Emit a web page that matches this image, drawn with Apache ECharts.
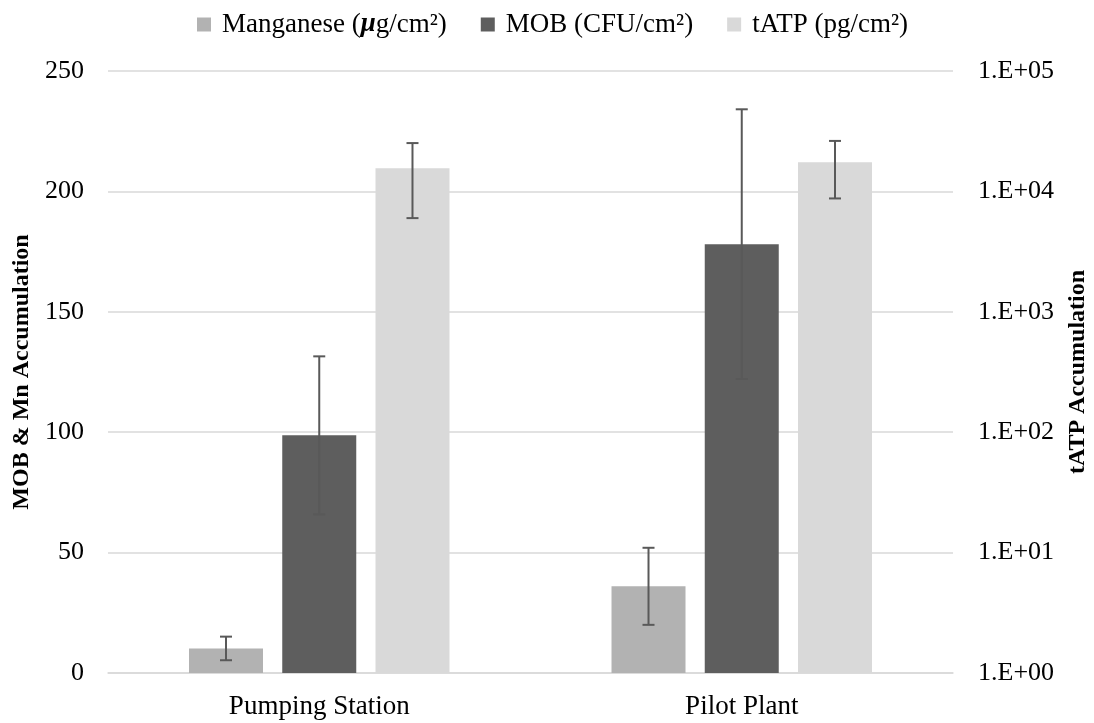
<!DOCTYPE html>
<html>
<head>
<meta charset="utf-8">
<style>html,body{margin:0;padding:0;background:#fff}#c{width:1094px;height:723px}</style>
<script src="https://cdn.jsdelivr.net/npm/echarts@6/dist/echarts.min.js"></script>
</head>
<body>
<div id="c"></div>
<script>
const categories = ['Pumping Station', 'Pilot Plant'];
const seriesNames = ['Manganese (μg/cm²)', 'MOB (CFU/cm²)', 'tATP (pg/cm²)'];
const manganese = [10.2, 36.0];
const manganeseErr = [4.9, 16.0];
const mob = [98.7, 178.1];
const mobErr = [32.8, 56.0];
const tatp = [15600, 17500];
const tatpErr = [9600, 8760];
const leftTicks = [0, 50, 100, 150, 200, 250];
const rightTicks = [1, 10, 100, 1000, 10000, 100000];

const FONT = '"Liberation Serif", "Times New Roman", serif';
const BAR_W = 74, BAR_GAP = 0.26;
const colors = ['#b2b2b2', '#5e5e5e', '#d9d9d9'];

function errSeries(vals, errs, offsetIdx, yIdx) {
  return {
    type: 'custom',
    yAxisIndex: yIdx,
    z: 10,
    silent: true,
    data: vals.map((v, i) => [i, v, errs[i]]),
    encode: {x: 0, y: 1},
    renderItem: function (params, api) {
      const i = api.value(0), v = api.value(1), e = api.value(2);
      const off = offsetIdx * BAR_W * (1 + BAR_GAP);
      const top = api.coord([i, v + e]);
      const bot = api.coord([i, v - e]);
      const x = top[0] + off;
      const half = 6;
      const st = {stroke: '#595959', lineWidth: 2};
      return {
        type: 'group',
        children: [
          {type: 'line', shape: {x1: x, y1: top[1], x2: x, y2: bot[1]}, style: st},
          {type: 'line', shape: {x1: x - half, y1: top[1], x2: x + half, y2: top[1]}, style: st},
          {type: 'line', shape: {x1: x - half, y1: bot[1], x2: x + half, y2: bot[1]}, style: st}
        ]
      };
    }
  };
}

const chart = echarts.init(document.getElementById('c'));
chart.setOption({
  animation: false,
  backgroundColor: '#fff',
  textStyle: {fontFamily: FONT},
  legend: {
    data: seriesNames,
    top: 6,
    left: 192,
    itemWidth: 14,
    itemHeight: 14,
    itemGap: 34,
    icon: 'rect',
    formatter: function (name) {
      return name.indexOf('μ') >= 0 ? name.replace('μ', '{b|μ}') : name;
    },
    textStyle: {
      fontFamily: FONT, fontSize: 27, color: '#000', padding: [0, 0, 0, 6],
      rich: {b: {fontFamily: FONT, fontSize: 27, fontWeight: 'bold', fontStyle: 'italic', color: '#000'}}
    }
  },
  grid: {left: 108, right: 141, top: 71, bottom: 50, containLabel: false, outerBoundsMode: 'none'},
  xAxis: {
    type: 'category',
    data: categories,
    axisLine: {lineStyle: {color: '#d9d9d9', width: 1.5}},
    axisTick: {show: false},
    axisLabel: {fontFamily: FONT, fontSize: 27, color: '#000', margin: 20}
  },
  yAxis: [
    {
      type: 'value',
      min: leftTicks[0],
      max: leftTicks[leftTicks.length - 1],
      interval: 50,
      name: 'MOB & Mn Accumulation',
      nameLocation: 'middle',
      nameRotate: 90,
      nameGap: 74,
      nameTextStyle: {fontFamily: FONT, fontSize: 24, fontWeight: 'bold', color: '#000'},
      axisLine: {show: false},
      axisTick: {show: false},
      axisLabel: {fontFamily: FONT, fontSize: 26, color: '#000', margin: 24},
      splitLine: {lineStyle: {color: '#d9d9d9', width: 1.5}}
    },
    {
      type: 'log',
      logBase: 10,
      min: rightTicks[0],
      max: rightTicks[rightTicks.length - 1],
      splitNumber: 5,
      name: 'tATP Accumulation',
      nameLocation: 'middle',
      nameRotate: 90,
      nameGap: 113,
      nameTextStyle: {fontFamily: FONT, fontSize: 24, fontWeight: 'bold', color: '#000'},
      axisLine: {show: false},
      axisTick: {show: false},
      splitLine: {show: false},
      axisLabel: {
        fontFamily: FONT, fontSize: 26, color: '#000', margin: 25,
        formatter: function (v) {
          const ex = Math.round(Math.log10(v));
          return '1.E+' + (ex < 10 ? '0' : '') + ex;
        }
      }
    }
  ],
  series: [
    {name: seriesNames[0], type: 'bar', yAxisIndex: 0, data: manganese, barWidth: BAR_W, barGap: (BAR_GAP * 100) + '%', itemStyle: {color: colors[0]}},
    {name: seriesNames[1], type: 'bar', yAxisIndex: 0, data: mob, barWidth: BAR_W, barGap: (BAR_GAP * 100) + '%', itemStyle: {color: colors[1]}},
    {name: seriesNames[2], type: 'bar', yAxisIndex: 1, data: tatp, barWidth: BAR_W, barGap: (BAR_GAP * 100) + '%', itemStyle: {color: colors[2]}},
    errSeries(manganese, manganeseErr, -1, 0),
    errSeries(mob, mobErr, 0, 0),
    errSeries(tatp, tatpErr, 1, 1)
  ]
});
</script>
</body>
</html>
